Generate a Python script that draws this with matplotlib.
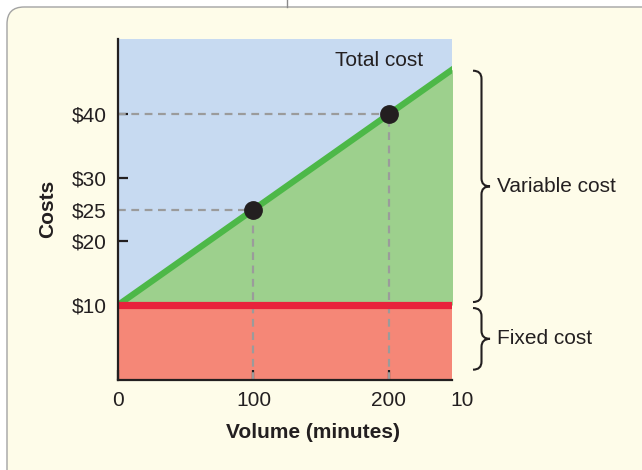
import matplotlib
matplotlib.use("Agg")
import matplotlib.pyplot as plt
from matplotlib.patches import FancyBboxPatch, PathPatch
from matplotlib.path import Path
from matplotlib.lines import Line2D
from matplotlib.transforms import IdentityTransform

plt.rcParams['font.family'] = ['Liberation Sans', 'DejaVu Sans']

# --- data ---------------------------------------------------------------
volume_ticks = [0, 100, 200]
volume_tick_labels = ["0", "100", "200"]
cost_ticks = [10, 20, 25, 30, 40]
cost_tick_labels = ["$10", "$20", "$25", "$30", "$40"]
fixed_cost = 10
total_cost_x = [0, 100, 200, 250]
total_cost_y = [10, 25, 40, 47.5]
point_volume = [100, 200]
point_cost = [25, 40]

x_max, y_min, y_max = 246.5, -1.7, 51.8

# --- colours --------------------------------------------------------------
panel_bg = "#FEFCE9"
blue_bg = "#C7DAF1"
green_fill = "#9DD08D"
green_line = "#4DB848"
red_fill = "#F58777"
red_line = "#E8233C"
dash_gray = "#9B9B9B"
ink = "#231F20"
FS = 15

W, H, DPI = 642, 470, 100
fig = plt.figure(figsize=(W / DPI, H / DPI), dpi=DPI)
fig.patch.set_facecolor("white")

# rounded cream panel behind everything
panel = FancyBboxPatch((7, -30), 700, H - 7 + 30,
                       boxstyle="round,pad=0,rounding_size=17",
                       transform=IdentityTransform(),
                       facecolor=panel_bg, edgecolor="#A3A3A3", linewidth=1.0,
                       zorder=0)
fig.patches.append(panel)
fig.lines.append(Line2D([287, 287], [H - 7, H], transform=IdentityTransform(),
                        color="#8A8A8A", linewidth=1.0))

ax = fig.add_axes([118 / W, (H - 379.5) / H, 334 / W, (379.5 - 39) / H])
ax.set_xlim(0, x_max)
ax.set_ylim(y_min, y_max)
ax.set_facecolor(blue_bg)
ax.set_zorder(1)

# fills: fixed cost below, variable cost between fixed and total
ax.fill_between([0, x_max], y_min, fixed_cost, color=red_fill, lw=0, zorder=1)
ax.fill_between(total_cost_x, fixed_cost, total_cost_y, color=green_fill, lw=0, zorder=1)

# dashed guides from each point to the axes
for px, py in zip(point_volume, point_cost):
    ax.plot([0, px], [py, py], ls=(0, (3.5, 2.5)), color=dash_gray, lw=1.6, zorder=2)
    ax.plot([px, px], [y_min, py], ls=(0, (3.5, 2.5)), color=dash_gray, lw=1.6, zorder=2)

ax.plot(total_cost_x, total_cost_y, color=green_line, lw=4.5,
        solid_capstyle="butt", zorder=3)
ax.plot([0, x_max], [fixed_cost, fixed_cost], color=red_line, lw=5.2,
        solid_capstyle="butt", zorder=3)
ax.plot(point_volume, point_cost, "o", color=ink, ms=12.5, zorder=4)

ax.text(193, 48.4, "Total cost", ha="center", va="center", fontsize=FS,
        color=ink, zorder=5)

# axes styling
for s in ("top", "right"):
    ax.spines[s].set_visible(False)
for s in ("left", "bottom"):
    ax.spines[s].set_linewidth(1.6)
    ax.spines[s].set_color(ink)
    ax.spines[s].set_zorder(6)

ax.set_xticks(volume_ticks, volume_tick_labels)
ax.set_yticks(cost_ticks, cost_tick_labels)
ax.tick_params(axis="both", direction="in", length=7, width=1.6, color=ink,
               labelsize=FS, labelcolor=ink)
ax.tick_params(axis="y", pad=8)
ax.tick_params(axis="x", pad=8)
for t in ax.yaxis.get_major_ticks():
    if t.get_loc() == 25:
        t.tick1line.set_visible(False)
for t in ax.get_xticklines() + ax.get_yticklines():
    t.set_zorder(6)

ax.annotate("10", xy=(254, 0), xycoords=("data", "axes fraction"),
            xytext=(0, -8), textcoords="offset points",
            ha="center", va="top", fontsize=FS, color=ink, annotation_clip=False)

ax.set_xlabel("Volume (minutes)", fontsize=FS, fontweight="bold", color=ink)
ax.xaxis.set_label_coords((313 - 118) / 334, (379.5 - 432) / 340.5)
ax.xaxis.label.set_va("center")
ax.set_ylabel("Costs", fontsize=FS, fontweight="bold", color=ink)
ax.yaxis.set_label_coords((48 - 118) / 334, 0.5)
ax.yaxis.label.set_va("center")


def brace(y_top, y_bot, x_end, x_stem, x_tip, r=8):
    """Right-facing curly brace in display pixels."""
    y_mid = (y_top + y_bot) / 2
    verts = [
        (x_end, y_top),
        (x_stem, y_top), (x_stem, y_top - r),
        (x_stem, y_mid + r),
        (x_stem, y_mid), (x_tip, y_mid),
        (x_stem, y_mid), (x_stem, y_mid - r),
        (x_stem, y_bot + r),
        (x_stem, y_bot), (x_end, y_bot),
    ]
    codes = [Path.MOVETO,
             Path.CURVE3, Path.CURVE3,
             Path.LINETO,
             Path.CURVE3, Path.CURVE3,
             Path.CURVE3, Path.CURVE3,
             Path.LINETO,
             Path.CURVE3, Path.CURVE3]
    return PathPatch(Path(verts, codes), facecolor="none", edgecolor=ink,
                     lw=1.5, transform=IdentityTransform(), zorder=5)


to_px = ax.transData.transform
top_px = to_px((x_max, total_cost_y[-1] - (total_cost_y[-1] - total_cost_y[-2])
                * (total_cost_x[-1] - x_max) / (total_cost_x[-1] - total_cost_x[-2])))[1]
fixed_px = to_px((0, fixed_cost))[1]
bottom_px = to_px((0, 0))[1]
gap = 3
var_top, var_bot = top_px - 1, fixed_px + gap
fix_top, fix_bot = fixed_px - gap, bottom_px - 1
fig.patches.append(brace(var_top, var_bot, 473, 481.5, 490))
fig.patches.append(brace(fix_top, fix_bot, 473, 481.5, 490))

fig.text(497 / W, (var_top + var_bot) / 2 / H, "Variable cost", ha="left",
         va="center", fontsize=FS, color=ink)
fig.text(497 / W, (fix_top + fix_bot) / 2 / H, "Fixed cost", ha="left",
         va="center", fontsize=FS, color=ink)

fig.savefig("out.png", dpi=DPI)
